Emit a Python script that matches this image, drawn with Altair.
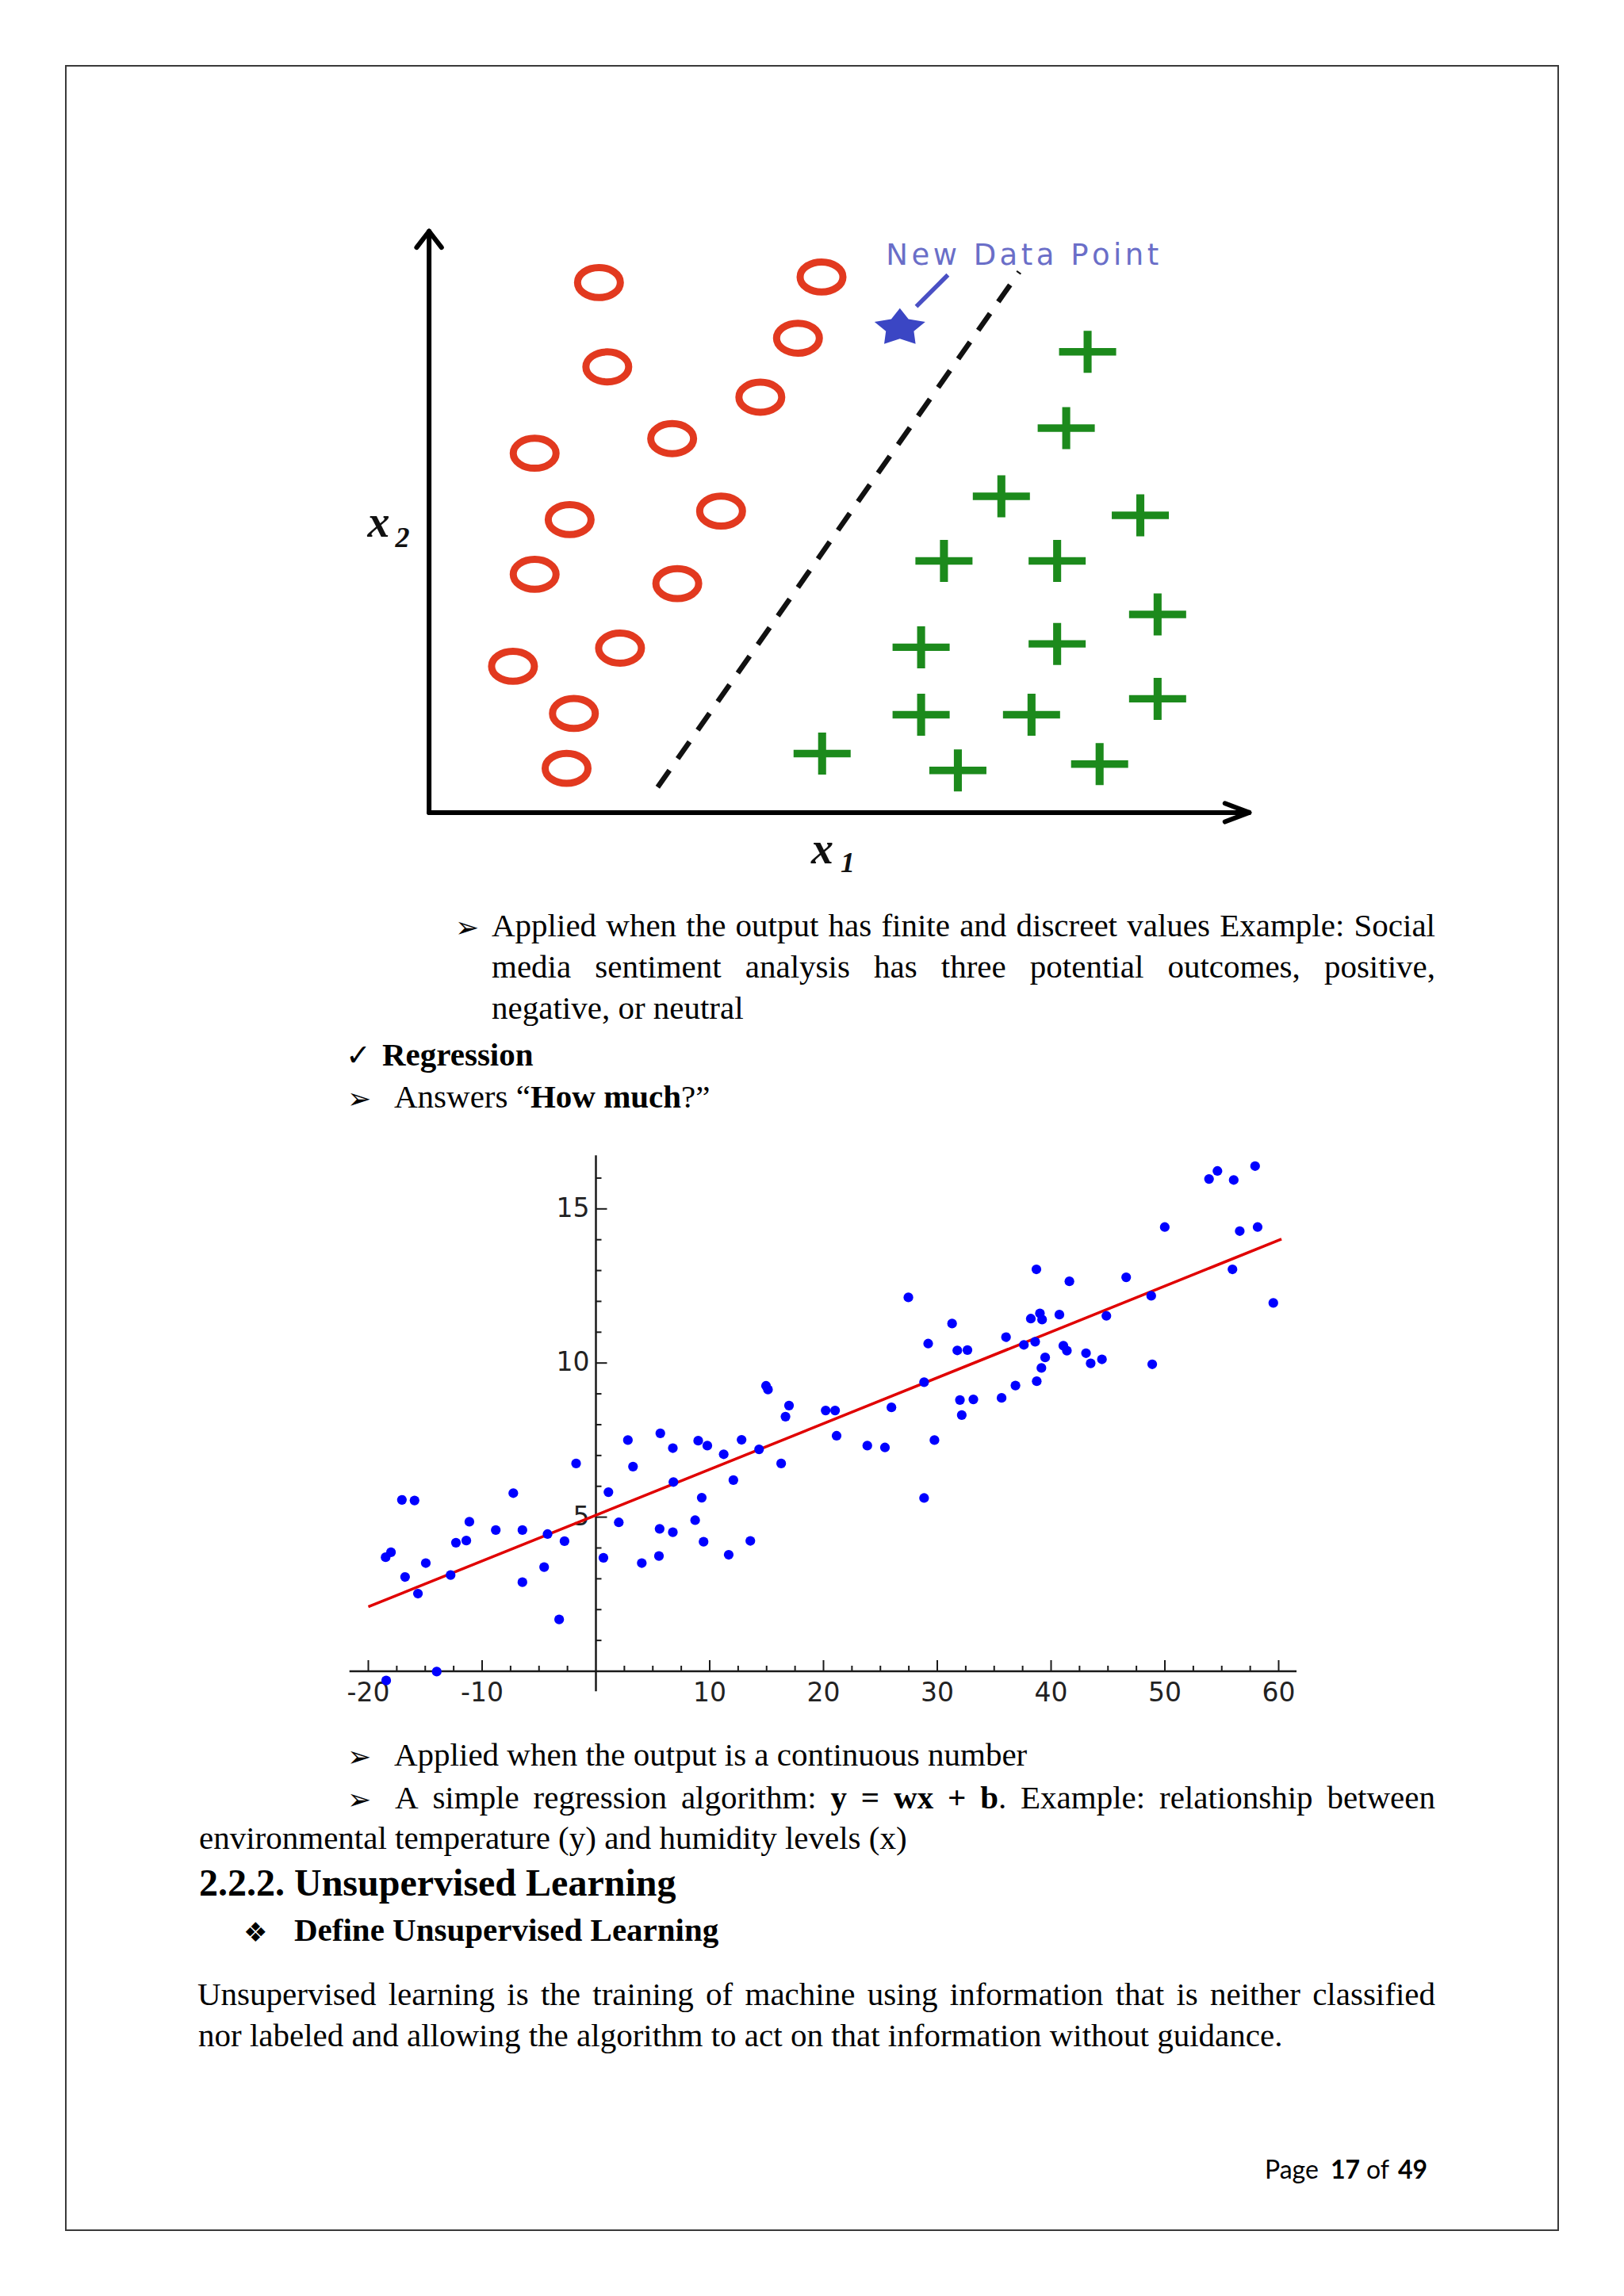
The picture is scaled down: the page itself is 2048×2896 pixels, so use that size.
import math
import altair as alt
import pandas as pd

W, H, OFF = 2032, 2880, 8

# ===================== Classification diagram (diagram units) =====================
circle_x1 = [11.60, 26.80, 12.17, 25.19, 22.62, 7.21, 16.60, 9.60, 19.94, 7.21, 16.95, 5.73, 13.04, 9.89, 9.39]
circle_x2 = [36.20, 36.58, 30.44, 32.40, 28.37, 24.54, 25.54, 20.01, 20.59, 16.27, 15.64, 9.99, 11.23, 6.77, 3.02]
plus_x1 = [44.97, 43.51, 39.08, 48.57, 35.16, 42.89, 49.75, 33.60, 42.89, 33.60, 41.14, 49.75, 26.84, 36.11, 45.79]
plus_x2 = [31.47, 26.26, 21.60, 20.30, 17.19, 17.19, 13.53, 11.29, 11.52, 6.68, 6.68, 7.77, 4.03, 2.88, 3.31]
new_x1 = [32.15]
new_x2 = [33.23]
pointer_x1 = [33.27, 35.43]
pointer_x2 = [34.56, 36.72]
boundary_x1 = [15.61, 40.30]
boundary_x2 = [1.73, 36.93]
axis_x1_max = 56.0
axis_x2_max = 39.7
new_label = "New Data Point"

# ===================== Regression scatter =====================
reg_x = [-18.43, -18.48, -18.01, -17.05, -15.94, -16.77, -15.64, -14.95, -13.99, -12.77,
         -12.30, -11.39, -11.12, -8.80, -7.26, -6.46, -6.46, -4.55, -4.25, -3.23,
         -2.76, -1.74, 0.66, 1.10, 2.01, 2.81, 3.26, 4.03, 5.54, 5.60,
         5.66, 6.76, 6.76, 6.81, 8.72, 8.99, 9.30, 9.46, 9.79, 11.23,
         11.67, 12.08, 12.80, 13.57, 14.34, 14.95, 15.12, 16.28, 16.66, 16.97,
         20.19, 21.02, 21.15,
         23.85, 25.40, 25.97, 27.46, 28.84, 28.84, 29.20, 29.75, 31.30, 31.76,
         31.99, 32.15, 32.65, 33.17, 35.65, 36.04, 36.87, 37.61, 38.22, 38.60,
         38.71, 38.74, 39.02, 39.15, 39.21, 39.48, 40.73, 41.08, 41.39, 41.61,
         43.07, 43.48, 44.47, 44.86, 46.60, 48.80, 48.89, 49.99, 53.88, 54.62,
         55.94, 56.05, 56.58, 57.93, 58.15, 59.53]
reg_y = [-0.30, 3.70, 3.86, 5.56, 5.54, 3.06, 2.52, 3.51, -0.01, 3.12,
         4.17, 4.24, 4.85, 4.58, 5.78, 4.58, 2.89, 3.38, 4.45, 1.68,
         4.22, 6.74, 3.68, 5.81, 4.83, 7.50, 6.64, 3.51, 3.74, 4.62,
         7.72, 7.24, 4.51, 6.14, 4.90, 7.48, 5.63, 4.20, 7.32, 7.04,
         3.78, 6.20, 7.51, 4.23, 7.20, 9.26, 9.14, 6.74, 8.26, 8.62,
         8.46, 8.46, 7.64,
         7.32, 7.26, 8.56, 12.13, 9.38, 5.62, 10.63, 7.50, 11.28, 10.41,
         8.80, 8.31, 10.42, 8.82, 8.87, 10.84, 9.27, 10.59, 11.44, 10.69,
         13.04, 9.41, 11.61, 9.84, 11.41, 10.18, 11.57, 10.56, 10.40, 12.65,
         10.32, 9.99, 10.12, 11.53, 12.78, 12.18, 9.96, 14.41, 15.97, 16.23,
         13.04, 15.94, 14.28, 16.39, 14.41, 11.95]
fit_x = [-20.0, 60.25]
fit_y = [2.09, 14.02]
x_axis_range = [-21.66, 61.57]
y_axis_range = [-0.65, 16.74]
x_tick_labels = [-20, -10, 10, 20, 30, 40, 50, 60]
y_tick_labels = [5, 10, 15]

# ===================== Page text =====================
line_a1 = "Applied when the output has finite and discreet values Example: Social"
line_a2 = "media sentiment analysis has three potential outcomes, positive,"
line_a3 = "negative, or neutral"
line_reg = "Regression"
line_cont = "Applied when the output is a continuous number"
line_simple = [[("A", 0)], [("simple", 0)], [("regression", 0)], [("algorithm:", 0)],
               [("y", 1)], [("=", 1)], [("wx", 1)], [("+", 1)], [("b", 1), (".", 0)],
               [("Example:", 0)], [("relationship", 0)], [("between", 0)]]
line_env = "environmental temperature (y) and humidity levels (x)"
line_head = "2.2.2. Unsupervised Learning"
line_define = "Define Unsupervised Learning"
line_u1 = "Unsupervised learning is the training of machine using information that is neither classified"
line_u2 = "nor labeled and allowing the algorithm to act on that information without guidance."
answers = [[("Answers", 0)], [("\u201c", 0), ("How", 1)], [("much", 1), ("?\u201d", 0)]]

# ===================== Scales (diagram units -> page pixels) =====================
def xscale(origin, ppu):
    return alt.Scale(domain=[-origin / ppu, (W - origin) / ppu], nice=False, zero=False)

def yscale(origin, ppu):
    return alt.Scale(domain=[(origin - H) / ppu, origin / ppu], nice=False, zero=False)

TX0, TY0, TP = 541.1 - OFF, 1024.9 - OFF, 18.467
RX0, RY0, RPX, RPY = 751.5 - OFF, 2108.0 - OFF, 14.35, 38.88
SXA, SYA = xscale(TX0, TP), yscale(TY0, TP)
SXB, SYB = xscale(RX0, RPX), yscale(RY0, RPY)

def xa(f): return alt.X(field=f, type="quantitative", scale=SXA, axis=None)
def ya(f): return alt.Y(field=f, type="quantitative", scale=SYA, axis=None)
def xb(f): return alt.X(field=f, type="quantitative", scale=SXB, axis=None)
def yb(f): return alt.Y(field=f, type="quantitative", scale=SYB, axis=None)

RED, GREEN, STARBLUE, LABBLUE = "#e2391f", "#1c8a1c", "#3b46c4", "#6a6ec8"

# custom symbol shapes (unit box)
ELLIPSE = "M -1 0 A 1 0.70 0 1 1 1 0 A 1 0.70 0 1 1 -1 0 Z"
t, v, h = 0.13, 0.14, 0.736
PLUS = (f"M -1 -{t} L -{v} -{t} L -{v} -{h} L {v} -{h} L {v} -{t} L 1 -{t} L 1 {t} "
        f"L {v} {t} L {v} {h} L -{v} {h} L -{v} {t} L -1 {t} Z")

def star_path(inner=0.55, aspect=0.70):
    pts = []
    for k in range(10):
        r = 1.0 if k % 2 == 0 else inner
        a = math.radians(-90 + 36 * k)
        pts.append((r * math.cos(a), r * math.sin(a)))
    xm = max(abs(p[0]) for p in pts)
    ys = [p[1] for p in pts]
    yc, yh = (max(ys) + min(ys)) / 2, (max(ys) - min(ys)) / 2
    pts = [(x / xm, (y - yc) / yh * aspect) for x, y in pts]
    return "M " + " L ".join(f"{x:.3f} {y:.3f}" for x, y in pts) + " Z"

STAR = star_path()

layers = []

# page border
layers.append(alt.Chart(pd.DataFrame({"k": [0]})).mark_rect(
    fillOpacity=0, stroke="#3a3a3a", strokeWidth=2).encode(
    x=alt.value(83 - OFF), x2=alt.value(1965 - OFF), y=alt.value(83 - OFF), y2=alt.value(2813 - OFF)))

# ---------- classification diagram ----------
seg = pd.DataFrame({
    "a": [0, 0, 0, 0, axis_x1_max, axis_x1_max],
    "b": [0, 0, axis_x2_max, axis_x2_max, 0, 0],
    "a2": [0, axis_x1_max, -0.85, 0.85, axis_x1_max - 1.65, axis_x1_max - 1.65],
    "b2": [axis_x2_max, 0, axis_x2_max - 1.1, axis_x2_max - 1.1, 0.63, -0.63],
})
layers.append(alt.Chart(seg).mark_rule(color="#000", strokeWidth=6, strokeCap="round").encode(
    x=xa("a"), y=ya("b"), x2=alt.X2(field="a2"), y2=alt.Y2(field="b2")))

layers.append(alt.Chart(pd.DataFrame({"a": boundary_x1, "b": boundary_x2})).mark_line(
    color="#111", strokeWidth=6.5, strokeDash=[26, 18]).encode(x=xa("a"), y=ya("b")))

layers.append(alt.Chart(pd.DataFrame({"a": circle_x1, "b": circle_x2})).mark_point(
    shape=ELLIPSE, size=2916, filled=False, strokeWidth=9, color=RED, opacity=1).encode(
    x=xa("a"), y=ya("b")))

layers.append(alt.Chart(pd.DataFrame({"a": plus_x1, "b": plus_x2})).mark_point(
    shape=PLUS, size=5184, filled=True, color=GREEN, opacity=1, strokeWidth=0).encode(
    x=xa("a"), y=ya("b")))

layers.append(alt.Chart(pd.DataFrame({"a": pointer_x1, "b": pointer_x2})).mark_line(
    color="#4a50c4", strokeWidth=5.5).encode(x=xa("a"), y=ya("b")))

layers.append(alt.Chart(pd.DataFrame({"a": new_x1, "b": new_x2})).mark_point(
    shape=STAR, size=4100, filled=True, color=STARBLUE, opacity=1, strokeWidth=0).encode(
    x=xa("a"), y=ya("b")))

# "New Data Point" letters (wide letter spacing)
DJ = {"N": .748, "e": .615, "w": .818, " ": .318, "D": .770, "a": .613, "t": .392,
      "P": .603, "o": .612, "i": .278, "n": .634}
fs_new = 37
nat = sum(DJ[c] for c in new_label) * fs_new
extra = (344 - nat) / (len(new_label) - 1)
rows, cx = [], 0.0
for c in new_label:
    if c != " ":
        rows.append({"c": c, "a": 31.2 + cx / TP, "b": 37.4})
    cx += DJ[c] * fs_new + extra
layers.append(alt.Chart(pd.DataFrame(rows)).mark_text(
    font="DejaVu Sans", fontSize=fs_new, color=LABBLUE, align="left", baseline="alphabetic").encode(
    x=xa("a"), y=ya("b"), text="c:N"))

# axis labels x2 / x1
lab_main = pd.DataFrame({"t": ["x", "x"], "a": [-4.2, 26.1], "b": [18.86, -3.46]})
lab_sub = pd.DataFrame({"t": ["2", "1"], "a": [-2.31, 28.1], "b": [18.14, -4.04]})
layers.append(alt.Chart(lab_main).mark_text(
    font="Liberation Serif", fontSize=56, fontStyle="italic", fontWeight="bold",
    align="left", baseline="alphabetic", color="#111").encode(x=xa("a"), y=ya("b"), text="t:N"))
layers.append(alt.Chart(lab_sub).mark_text(
    font="Liberation Serif", fontSize=36, fontStyle="italic", fontWeight="bold",
    align="left", baseline="alphabetic", color="#111").encode(x=xa("a"), y=ya("b"), text="t:N"))

# ---------- regression chart ----------
AX = "#1a1a1a"
rax = pd.DataFrame({"a": [x_axis_range[0], 0], "b": [0, y_axis_range[0]],
                    "a2": [x_axis_range[1], 0], "b2": [0, y_axis_range[1]]})
layers.append(alt.Chart(rax).mark_rule(color=AX, strokeWidth=2.5).encode(
    x=xb("a"), y=yb("b"), x2=alt.X2(field="a2"), y2=alt.Y2(field="b2")))

y_minor = [k for k in range(1, 17) if k % 5 != 0]
x_minor = [k * 2.5 for k in range(-8, 25) if k % 4 != 0]
for vals, ln in ((y_minor, 7), (y_tick_labels, 14)):
    layers.append(alt.Chart(pd.DataFrame({"z": [0] * len(vals), "v": vals})).mark_rule(
        color=AX, strokeWidth=2, x2Offset=ln).encode(x=xb("z"), x2=alt.X2(field="z"), y=yb("v")))
for vals, ln in ((x_minor, 7), (x_tick_labels, 14)):
    layers.append(alt.Chart(pd.DataFrame({"z": [0] * len(vals), "v": vals})).mark_rule(
        color=AX, strokeWidth=2, y2Offset=-ln).encode(x=xb("v"), y=yb("z"), y2=alt.Y2(field="z")))

layers.append(alt.Chart(pd.DataFrame({"v": x_tick_labels, "z": [0] * len(x_tick_labels),
                                      "t": [str(k) for k in x_tick_labels]})).mark_text(
    font="DejaVu Sans", fontSize=33, color="#222", dy=28, baseline="middle", align="center").encode(
    x=xb("v"), y=yb("z"), text="t:N"))
layers.append(alt.Chart(pd.DataFrame({"v": y_tick_labels, "z": [0] * len(y_tick_labels),
                                      "t": [str(k) for k in y_tick_labels]})).mark_text(
    font="DejaVu Sans", fontSize=33, color="#222", dx=-8, baseline="middle", align="right").encode(
    x=xb("z"), y=yb("v"), text="t:N"))

layers.append(alt.Chart(pd.DataFrame({"a": fit_x, "b": fit_y})).mark_line(
    color="#e00000", strokeWidth=3.5).encode(x=xb("a"), y=yb("b")))
layers.append(alt.Chart(pd.DataFrame({"a": reg_x, "b": reg_y})).mark_circle(
    size=150, color="#0000ff", opacity=1).encode(x=xb("a"), y=yb("b")))

# ---------- page text (Times metrics for justification) ----------
UP = "ABCDEFGHIJKLMNOPQRSTUVWXYZ"
LO = "abcdefghijklmnopqrstuvwxyz"
TR = dict(zip(UP, [722, 667, 667, 722, 611, 556, 722, 722, 333, 389, 722, 611, 889, 722, 722, 556, 722, 667, 556, 611, 722, 722, 944, 722, 722, 611]))
TR.update(zip(LO, [444, 500, 444, 500, 444, 333, 500, 500, 278, 278, 500, 278, 778, 500, 500, 500, 500, 333, 389, 278, 500, 500, 722, 500, 500, 444]))
TR.update({" ": 250, ",": 250, ".": 250, ":": 278, "(": 333, ")": 333, "=": 564, "+": 564, "?": 444, "\u201c": 444, "\u201d": 444, "-": 333})
TB = dict(zip(UP, [722, 667, 722, 722, 667, 611, 778, 778, 389, 500, 778, 667, 944, 722, 778, 611, 778, 722, 556, 667, 722, 722, 1000, 722, 722, 667]))
TB.update(zip(LO, [500, 556, 444, 556, 444, 333, 500, 556, 278, 333, 556, 278, 833, 556, 500, 556, 556, 444, 389, 333, 556, 500, 722, 500, 500, 444]))
TB.update({" ": 250, ",": 250, ".": 250, ":": 333, "=": 570, "+": 570, "?": 500})


def tw(s, bold, size):
    tab = TB if bold else TR
    return sum(tab.get(c, 500) for c in s) * size / 1000.0


def plain(s):
    return [[(w, 0)] for w in s.split()]


REG, BOLD = [], []


def layout(words, left, right, y, size=41, justify=True):
    widths = [sum(tw(t_, b_, size) for t_, b_ in w) for w in words]
    gap = (right - left - sum(widths)) / (len(words) - 1) if justify else tw(" ", 0, size)
    x = left
    for w, wd in zip(words, widths):
        cx_ = x
        for t_, b_ in w:
            (BOLD if b_ else REG).append((t_, cx_, y))
            cx_ += tw(t_, b_, size)
        x += wd + gap


RM = 1810
layout(plain(line_a1), 620, RM, 1181)
layout(plain(line_a2), 620, RM, 1233)
REG.append((line_a3, 620, 1285))
BOLD.append((line_reg, 482, 1344))
layout(answers, 497, 0, 1397, justify=False)
REG.append((line_cont, 497, 2227))
layout(line_simple, 498, RM, 2281)
REG.append((line_env, 251, 2332))
BOLD.append((line_define, 371, 2448))
layout(plain(line_u1), 249, RM, 2529)
REG.append((line_u2, 250, 2581))
HEAD = [(line_head, 251, 2391)]


def text_layer(rows, font, size, weight="normal", color="#000"):
    df = pd.DataFrame(rows, columns=["t", "x", "y"])
    df["x"] = df["x"] - OFF
    df["y"] = df["y"] - OFF
    return alt.Chart(df).mark_text(font=font, fontSize=size, fontWeight=weight, align="left",
                                   baseline="alphabetic", color=color).encode(
        x=alt.X("x:Q", scale=None, axis=None), y=alt.Y("y:Q", scale=None, axis=None), text="t:N")


layers.append(text_layer(REG, "Liberation Serif", 41))
layers.append(text_layer(BOLD, "Liberation Serif", 41, "bold"))
layers.append(text_layer(HEAD, "Liberation Serif", 48, "bold"))
layers.append(text_layer([("Page", 1595, 2748), ("of", 1723, 2748)], "Lato", 32))
layers.append(text_layer([("17", 1678, 2748), ("49", 1763, 2748)], "Lato", 32, "bold"))

bul = pd.DataFrame([("\u27a2", 574, 1182, 36), ("\u2713", 436, 1344, 38), ("\u27a2", 438, 1398, 36),
                    ("\u27a2", 438, 2228, 36), ("\u27a2", 438, 2282, 36), ("\u2756", 307, 2449, 34)],
                   columns=["t", "x", "y", "s"])
bul["x"] = bul["x"] - OFF
bul["y"] = bul["y"] - OFF
layers.append(alt.Chart(bul).mark_text(font="DejaVu Sans", align="left", baseline="alphabetic",
                                       color="#000").encode(
    x=alt.X("x:Q", scale=None, axis=None), y=alt.Y("y:Q", scale=None, axis=None),
    size=alt.Size("s:Q", scale=None, legend=None), text="t:N"))

chart = alt.layer(*layers).resolve_scale(x="independent", y="independent", size="independent").properties(
    width=W, height=H, padding=0, autosize="none", background="white").configure_view(stroke=None)

chart.save("out.html", embed_options={"renderer": "svg", "actions": False})
